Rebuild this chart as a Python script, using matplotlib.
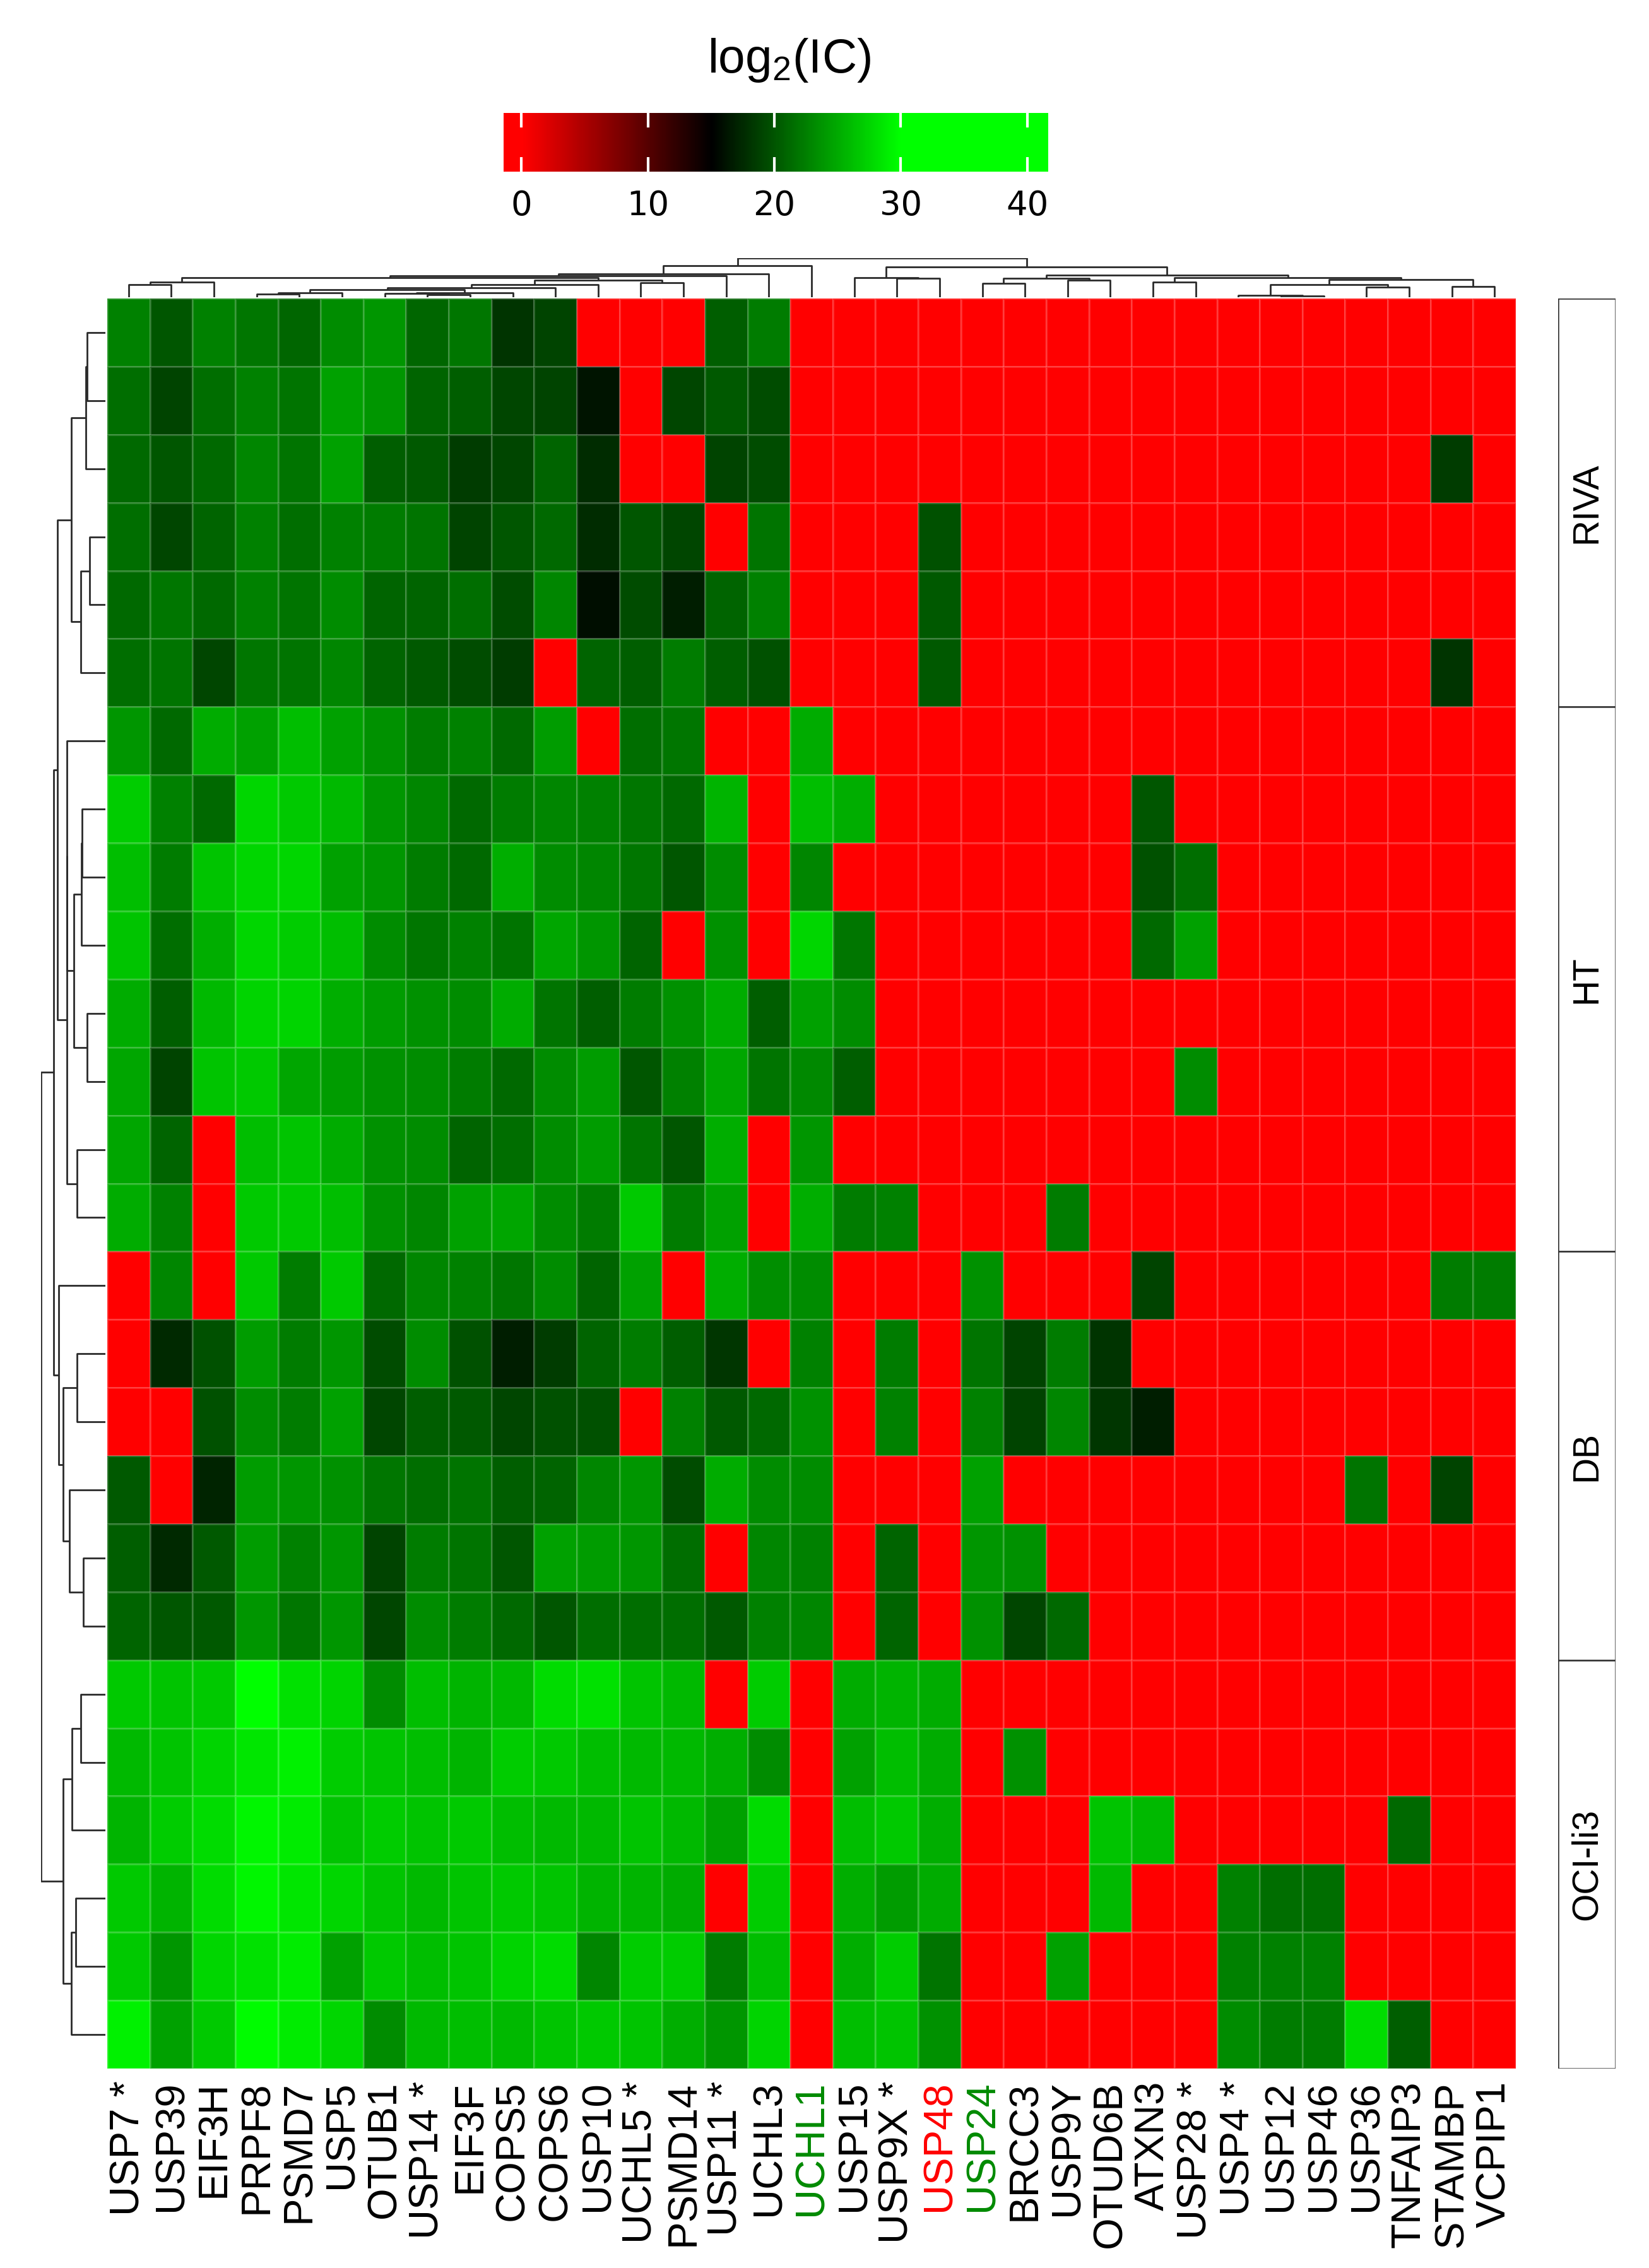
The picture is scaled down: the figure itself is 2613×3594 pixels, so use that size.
import numpy as np
import matplotlib
matplotlib.use('Agg')
from matplotlib import pyplot as plt
from matplotlib.colors import LinearSegmentedColormap
from matplotlib.patches import Rectangle

plt.rcParams['font.family'] = ['Liberation Sans', 'DejaVu Sans']
plt.rcParams['mathtext.default'] = 'regular'

# Column (gene) labels, left to right
genes = ['USP7 *', 'USP39', 'EIF3H', 'PRPF8', 'PSMD7', 'USP5', 'OTUB1', 'USP14 *',
         'EIF3F', 'COPS5', 'COPS6', 'USP10', 'UCHL5 *', 'PSMD14', 'USP11 *', 'UCHL3',
         'UCHL1', 'USP15', 'USP9X *', 'USP48', 'USP24', 'BRCC3', 'USP9Y', 'OTUD6B',
         'ATXN3', 'USP28 *', 'USP4 *', 'USP12', 'USP46', 'USP36', 'TNFAIP3', 'STAMBP',
         'VCPIP1']
label_colors = {'UCHL1': '#008a00', 'USP48': '#ff0000', 'USP24': '#008a00'}

# Cell line groups (rows, top to bottom)
groups = ['RIVA', 'HT', 'DB', 'OCI-li3']

# log2(IC) values, 0 = not detected
riva = [
    [22.5, 20.0, 22.6, 22.0, 21.0, 23.2, 23.8, 21.0, 22.0, 18.0, 19.0, 0, 0, 0, 20.6, 22.3, 0,
     0, 0, 0, 0, 0, 0, 0, 0, 0, 0, 0, 0, 0, 0, 0, 0],
    [21.5, 19.0, 21.5, 22.6, 21.8, 24.4, 23.8, 20.9, 20.6, 19.1, 19.0, 16.2, 0, 19.1, 20.3, 19.4, 0,
     0, 0, 0, 0, 0, 0, 0, 0, 0, 0, 0, 0, 0, 0, 0, 0],
    [21.2, 20.0, 21.2, 22.9, 21.8, 24.4, 20.6, 20.3, 18.5, 19.1, 20.9, 17.6, 0, 0, 19.0, 19.4, 0,
     0, 0, 0, 0, 0, 0, 0, 0, 0, 0, 0, 0, 0, 0, 18.5, 0],
    [21.5, 19.1, 20.9, 22.6, 21.5, 22.6, 22.3, 21.8, 19.0, 20.0, 21.2, 17.6, 20.0, 19.1, 0, 21.8, 0,
     0, 0, 19.7, 0, 0, 0, 0, 0, 0, 0, 0, 0, 0, 0, 0, 0],
    [21.2, 22.0, 21.2, 22.6, 21.8, 23.2, 20.9, 20.9, 21.5, 19.4, 22.9, 15.9, 19.4, 16.8, 20.9, 22.6, 0,
     0, 0, 20.3, 0, 0, 0, 0, 0, 0, 0, 0, 0, 0, 0, 0, 0],
    [21.5, 21.8, 19.1, 22.0, 21.8, 22.9, 20.9, 20.3, 19.4, 18.5, 0, 20.9, 20.6, 22.3, 20.6, 19.7, 0,
     0, 0, 20.3, 0, 0, 0, 0, 0, 0, 0, 0, 0, 0, 0, 18.0, 0],
]
ht = [
    [23.8, 21.2, 25.0, 24.4, 26.2, 24.4, 23.5, 22.3, 22.6, 21.2, 24.1, 0, 21.5, 22.0, 0, 0, 25.0,
     0, 0, 0, 0, 0, 0, 0, 0, 0, 0, 0, 0, 0, 0, 0, 0],
    [27.0, 22.6, 21.2, 27.6, 26.8, 25.9, 23.8, 22.9, 21.2, 22.3, 22.9, 22.6, 22.0, 21.2, 25.6, 0, 26.2,
     25.3, 0, 0, 0, 0, 0, 0, 20.0, 0, 0, 0, 0, 0, 0, 0, 0],
    [26.2, 22.3, 26.5, 27.6, 27.6, 24.4, 23.8, 22.3, 21.2, 25.3, 23.2, 22.9, 22.0, 20.0, 23.2, 0, 22.9,
     0, 0, 0, 0, 0, 0, 0, 19.7, 21.5, 0, 0, 0, 0, 0, 0, 0],
    [26.5, 21.5, 25.3, 27.6, 27.0, 26.2, 23.2, 22.0, 22.6, 21.8, 24.7, 23.8, 20.9, 0, 23.5, 0, 27.6,
     22.0, 0, 0, 0, 0, 0, 0, 21.2, 24.4, 0, 0, 0, 0, 0, 0, 0],
    [25.0, 20.6, 25.9, 27.4, 27.4, 25.3, 24.1, 23.5, 23.2, 25.0, 21.8, 20.6, 22.3, 23.5, 25.0, 20.6, 24.4,
     23.2, 0, 0, 0, 0, 0, 0, 0, 0, 0, 0, 0, 0, 0, 0, 0],
    [24.7, 19.0, 26.5, 26.8, 24.7, 24.1, 23.5, 23.2, 22.3, 21.2, 23.2, 24.1, 20.0, 22.6, 24.7, 21.8, 23.0,
     20.6, 0, 0, 0, 0, 0, 0, 0, 23.2, 0, 0, 0, 0, 0, 0, 0],
    [24.7, 20.9, 0, 26.2, 26.5, 25.0, 23.5, 23.2, 20.9, 21.5, 23.2, 24.1, 21.8, 20.0, 25.3, 0, 23.8,
     0, 0, 0, 0, 0, 0, 0, 0, 0, 0, 0, 0, 0, 0, 0, 0],
    [25.0, 22.6, 0, 26.8, 26.8, 26.2, 23.5, 22.9, 24.4, 24.7, 23.2, 22.3, 26.8, 22.3, 24.4, 0, 25.3,
     22.3, 22.6, 0, 0, 0, 22.3, 0, 0, 0, 0, 0, 0, 0, 0, 0, 0],
]
db = [
    [0, 22.9, 0, 26.8, 22.3, 26.8, 21.2, 22.9, 22.6, 22.0, 23.2, 20.9, 24.4, 0, 25.3, 23.3, 23.2,
     0, 0, 0, 23.5, 0, 0, 0, 19.0, 0, 0, 0, 0, 0, 0, 22.3, 22.3],
    [0, 17.4, 19.7, 24.1, 22.3, 23.8, 19.4, 23.2, 19.7, 16.8, 18.5, 20.9, 22.3, 20.6, 18.2, 0, 22.6,
     0, 22.3, 0, 21.8, 19.0, 22.3, 18.0, 0, 0, 0, 0, 0, 0, 0, 0, 0],
    [0, 0, 19.7, 23.2, 22.3, 24.4, 19.1, 20.6, 20.3, 19.1, 19.7, 19.7, 0, 22.6, 20.3, 21.2, 23.5,
     0, 22.6, 0, 22.6, 19.0, 22.9, 18.2, 16.8, 0, 0, 0, 0, 0, 0, 0, 0],
    [20.3, 0, 17.1, 24.1, 23.8, 23.5, 22.0, 21.5, 21.8, 20.6, 20.9, 22.9, 23.8, 19.4, 25.0, 23.2, 23.2,
     0, 0, 0, 24.4, 0, 0, 0, 0, 0, 0, 0, 0, 21.8, 0, 19.0, 0],
    [20.6, 17.4, 20.3, 24.1, 22.6, 23.8, 19.0, 22.3, 21.8, 20.0, 24.4, 24.1, 23.8, 21.5, 0, 22.9, 22.6,
     0, 20.9, 0, 23.8, 23.5, 0, 0, 0, 0, 0, 0, 0, 0, 0, 0, 0],
    [20.9, 20.0, 20.3, 23.8, 22.0, 23.8, 19.1, 23.2, 22.3, 21.2, 20.0, 21.5, 21.5, 21.5, 20.3, 22.6, 22.9,
     0, 20.9, 0, 23.5, 19.1, 21.2, 0, 0, 0, 0, 0, 0, 0, 0, 0, 0],
]
oci = [
    [26.8, 26.5, 26.8, 30.0, 28.2, 27.4, 23.2, 26.2, 25.6, 25.9, 27.9, 28.2, 26.5, 25.9, 0, 27.0, 0,
     25.0, 25.6, 25.0, 0, 0, 0, 0, 0, 0, 0, 0, 0, 0, 0, 0, 0],
    [25.9, 26.5, 27.4, 28.5, 29.1, 27.0, 26.5, 26.2, 25.6, 27.0, 26.8, 26.2, 25.9, 25.9, 25.3, 23.2, 0,
     24.4, 26.2, 25.0, 0, 23.5, 0, 0, 0, 0, 0, 0, 0, 0, 0, 0, 0],
    [25.6, 27.0, 27.9, 29.4, 28.8, 26.5, 27.0, 26.5, 26.8, 26.2, 25.9, 25.9, 26.5, 25.9, 24.4, 27.9, 0,
     26.2, 26.8, 25.3, 0, 0, 0, 26.5, 25.9, 0, 0, 0, 0, 0, 21.2, 0, 0],
    [26.8, 25.6, 27.9, 29.4, 28.5, 27.6, 26.5, 25.9, 26.5, 26.8, 26.5, 25.6, 25.6, 25.0, 0, 27.0, 0,
     25.3, 24.1, 25.0, 0, 0, 0, 25.9, 0, 0, 22.6, 21.5, 21.5, 0, 0, 0, 0],
    [26.8, 23.8, 27.6, 28.2, 28.8, 24.4, 26.8, 26.2, 26.5, 27.4, 27.9, 22.9, 27.0, 27.0, 22.3, 26.2, 0,
     25.3, 27.0, 21.8, 0, 0, 24.4, 0, 0, 0, 22.6, 22.6, 22.6, 0, 0, 0, 0],
    [29.1, 24.4, 26.8, 29.7, 28.8, 27.6, 23.2, 25.9, 26.2, 25.9, 26.5, 26.8, 26.5, 25.3, 23.8, 27.4, 0,
     26.2, 26.5, 23.5, 0, 0, 0, 0, 0, 0, 23.2, 22.3, 22.3, 27.9, 20.6, 0, 0],
]

# Dendrogram merges: (left child, right child, height); children >= n refer to earlier merges
col_merges = [
    (0, 1, 60), (33, 2, 73), (3, 4, 15), (35, 5, 20), (7, 8, 13), (6, 37, 17),
    (38, 9, 22), (36, 39, 35), (40, 10, 45), (41, 11, 60), (12, 13, 68), (42, 43, 80),
    (34, 44, 93), (45, 14, 103), (46, 15, 113), (47, 16, 150),
    (18, 19, 90), (17, 49, 93), (20, 21, 65), (22, 23, 80), (51, 52, 90), (24, 25, 72),
    (27, 28, 5), (26, 55, 9), (29, 30, 47), (56, 57, 60), (31, 32, 50), (58, 59, 83),
    (54, 60, 95), (53, 61, 105), (50, 62, 145), (48, 63, 187),
]
row_merges = [
    (0, 1, 90), (26, 2, 96), (3, 4, 78), (28, 5, 120), (27, 29, 166),
    (7, 8, 113), (31, 9, 118), (10, 11, 90), (32, 33, 153), (6, 34, 186),
    (12, 13, 138), (35, 36, 188), (30, 37, 233),
    (15, 16, 138), (18, 19, 108), (17, 40, 176), (39, 41, 206), (14, 42, 228),
    (38, 43, 253),
    (20, 21, 120), (45, 22, 163), (23, 24, 143), (47, 25, 166), (46, 48, 206),
    (44, 49, 313),
]

data = np.array(riva + ht + db + oci, dtype=float)
group_sizes = [len(riva), len(ht), len(db), len(oci)]
n_rows, n_cols = data.shape

W, H = 2613, 3594


def box(x0, y0, x1, y1):
    # pixel box -> figure fraction rect
    return [x0 / W, 1 - y1 / H, (x1 - x0) / W, (y1 - y0) / H]


def draw_dendro(ax, merges, n, side):
    pos = {i: i + 0.5 for i in range(n)}
    hgt = {i: 0.0 for i in range(n)}
    for k, (a, b, h) in enumerate(merges):
        xa, xb = pos[a], pos[b]
        xs = [xa, xa, xb, xb]
        hs = [hgt[a], h, h, hgt[b]]
        if side == 'top':
            ax.plot(xs, hs, color='#2a2a2a', lw=2.0, solid_capstyle='butt')
        else:
            ax.plot(hs, xs, color='#2a2a2a', lw=2.0, solid_capstyle='butt')
        pos[n + k] = (xa + xb) / 2
        hgt[n + k] = h
    return hgt[n + len(merges) - 1]


cmap = LinearSegmentedColormap.from_list(
    'rg', [(0.0, '#ff0000'), (15 / 40, '#000000'), (30 / 40, '#00ff00'), (1.0, '#00ff00')])

fig = plt.figure(figsize=(W / 100, H / 100), dpi=100)

# Heatmap
ax = fig.add_axes(box(170, 473, 2402, 3278))
ax.pcolormesh(np.arange(n_cols + 1), np.arange(n_rows + 1), data, cmap=cmap,
              vmin=0, vmax=40, edgecolors=(1, 1, 1, 0.18), linewidth=1.0)
ax.set_xlim(0, n_cols)
ax.set_ylim(n_rows, 0)
ax.set_xticks(np.arange(n_cols) + 0.5)
ax.set_xticklabels(genes, rotation=90, fontsize=47, va='top')
for lbl in ax.get_xticklabels():
    lbl.set_color(label_colors.get(lbl.get_text(), 'black'))
ax.tick_params(axis='x', length=0, pad=14)
ax.set_yticks([])
for s in ax.spines.values():
    s.set_visible(False)

# Column dendrogram
axt = fig.add_axes(box(170, 409, 2402, 471))
top_h = draw_dendro(axt, col_merges, n_cols, 'top')
axt.set_xlim(0, n_cols)
axt.set_ylim(0, top_h)
axt.axis('off')

# Row dendrogram
axl = fig.add_axes(box(65, 473, 167, 3278))
left_h = draw_dendro(axl, row_merges, n_rows, 'left')
axl.set_ylim(n_rows, 0)
axl.set_xlim(left_h, 0)
axl.axis('off')

# Cell line boxes
axg = fig.add_axes(box(2469, 473, 2560, 3278))
axg.set_xlim(0, 1)
axg.set_ylim(n_rows, 0)
start = 0
for name, size in zip(groups, group_sizes):
    axg.add_patch(Rectangle((0, start), 1, size, facecolor='white',
                            edgecolor='#333333', lw=1.8))
    axg.text(0.5, start + size / 2, name, rotation=90, ha='center', va='center',
             fontsize=41)
    start += size
axg.axis('off')

# Colour key
lo, hi = -1.42, 41.67
axc = fig.add_axes(box(798, 179, 1661, 272))
grad = np.linspace(lo, hi, 600).reshape(1, -1)
axc.imshow(grad, cmap=cmap, vmin=0, vmax=40, aspect='auto',
           extent=[lo, hi, 0, 1], interpolation='bilinear')
ticks = [0, 10, 20, 30, 40]
axc.vlines(ticks, 0, 0.25, color='white', lw=3)
axc.vlines(ticks, 0.75, 1, color='white', lw=3)
axc.set_xlim(lo, hi)
axc.set_ylim(0, 1)
axc.set_xticks(ticks)
axc.set_xticklabels([str(t) for t in ticks], fontsize=38, family='DejaVu Sans')
axc.tick_params(axis='x', length=0, pad=20)
axc.set_yticks([])
for s in axc.spines.values():
    s.set_visible(False)

fig.text(1250 / W, 1 - 115 / H, 'log$_2$(IC)', ha='center', va='baseline', fontsize=55)

fig.savefig('out.png', dpi=100, facecolor='white')
